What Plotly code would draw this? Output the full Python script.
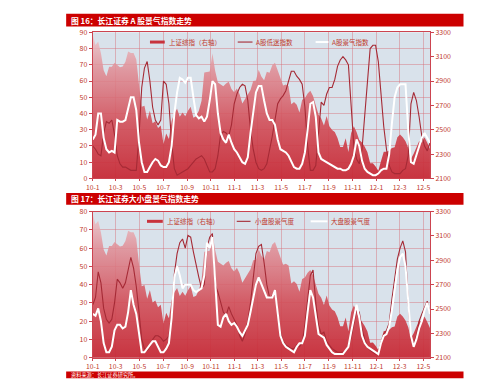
import pandas as pd
import plotly.graph_objects as go

# ---------------- data (weekly) ----------------
dates = pd.date_range("2010-01-01", periods=125, freq="7D")

sh_index = [3277, 3196, 3224, 3128, 2989, 2939, 3018, 3018, 3051, 3031,
            3014, 3019, 3059, 3143, 3131, 3130, 3077, 2870, 2688, 2697,
            2584, 2656, 2553, 2569, 2514, 2535, 2382, 2470, 2424, 2572,
            2637, 2672, 2606, 2642, 2610, 2655, 2688, 2598, 2610, 2656,
            2738, 2971, 2975, 2978, 3129, 2985, 2888, 2871, 2857, 2880,
            2895, 2835, 2808, 2838, 2791, 2715, 2752, 2790, 2827, 2900,
            2905, 2993, 2937, 2906, 2977, 2967, 3030, 3050, 2983, 2911,
            2863, 2871, 2858, 2709, 2728, 2705, 2642, 2746, 2759, 2797,
            2820, 2777, 2701, 2626, 2593, 2534, 2612, 2528, 2497, 2482,
            2432, 2359, 2359, 2431, 2317, 2473, 2528, 2481, 2416, 2396,
            2360, 2316, 2224, 2225, 2199, 2164, 2244, 2319, 2319, 2330,
            2351, 2357, 2439, 2461, 2439, 2405, 2350, 2262, 2302, 2359,
            2406, 2396, 2438, 2394, 2344]

a_low = [20, 18, 15, 14, 28, 35, 34, 36, 27, 14,
         9, 7, 7, 6, 5, 5, 5, 26, 56, 68,
         72, 60, 44, 36, 33, 36, 60, 58, 46, 22,
         6, 2, 3, 4, 5, 6, 8, 10, 12, 13,
         14, 12, 8, 4, 4, 6, 14, 27, 29, 28,
         26, 33, 46, 52, 56, 58, 57, 48, 30, 18,
         10, 6, 5, 6, 9, 17, 26, 36, 46, 49,
         51, 54, 60, 66, 66, 63, 61, 58, 44, 20,
         5, 5, 8, 30, 47, 45, 52, 56, 56, 61,
         69, 73, 75, 73, 70, 45, 20, 12, 9, 18,
         38, 62, 80, 82, 82, 72, 50, 32, 18, 8,
         4, 3, 3, 3, 5, 6, 14, 46, 53, 48,
         38, 26, 20, 17, 22]

a_boom = [24, 27, 40, 40, 25, 18, 16, 17, 16, 36,
          35, 35, 36, 43, 50, 50, 42, 22, 10, 4,
          4, 7, 10, 12, 11, 8, 7, 7, 10, 20,
          40, 53, 62, 61, 59, 62, 62, 50, 39, 37,
          38, 35, 38, 48, 60, 58, 40, 28, 24, 22,
          27, 22, 18, 16, 13, 10, 9, 13, 28, 42,
          53, 57, 57, 48, 40, 36, 36, 33, 24, 18,
          17, 16, 14, 10, 7, 6, 6, 9, 16, 30,
          46, 47, 38, 16, 12, 11, 10, 9, 8, 7,
          6, 6, 5, 5, 6, 9, 14, 24, 20, 11,
          6, 4, 3, 2, 2, 3, 5, 6, 6, 15,
          34, 50, 56, 58, 58, 58, 30, 10, 9, 14,
          20, 25, 28, 25, 22]

small_cap = [29, 33, 47, 41, 27, 21, 19, 21, 30, 43,
             41, 38, 41, 48, 55, 49, 39, 25, 10, 5,
             4, 6, 10, 12, 12, 11, 9, 10, 12, 24,
             46, 57, 63, 65, 60, 67, 66, 58, 50, 44,
             38, 40, 60, 66, 68, 40, 36, 30, 25, 23,
             28, 24, 21, 18, 12, 9, 13, 20, 30, 45,
             57, 61, 62, 52, 40, 33, 34, 37, 25, 14,
             9, 7, 6, 5, 5, 7, 6, 8, 18, 32,
             45, 48, 30, 18, 13, 14, 9, 7, 5, 4,
             3, 3, 3, 4, 6, 11, 19, 26, 25, 16,
             10, 6, 4, 3, 2, 3, 8, 13, 15, 19,
             32, 42, 54, 60, 64, 58, 30, 10, 8, 12,
             20, 24, 28, 31, 24]

large_cap = [24, 23, 27, 20, 8, 3, 3, 6, 15, 18,
             18, 16, 17, 25, 37, 29, 24, 12, 3, 3,
             5, 7, 9, 9, 6, 3, 3, 5, 8, 22,
             44, 50, 45, 38, 40, 40, 40, 37, 36, 37,
             38, 45, 63, 60, 66, 42, 18, 17, 22, 24,
             20, 18, 19, 17, 14, 12, 15, 18, 25, 32,
             40, 44, 40, 36, 33, 33, 33, 37, 24, 12,
             8, 6, 5, 4, 3, 6, 8, 8, 12, 25,
             37, 33, 22, 13, 12, 11, 7, 5, 3, 2,
             2, 2, 2, 4, 6, 14, 22, 29, 22, 12,
             8, 6, 5, 4, 3, 2, 8, 12, 13, 17,
             26, 38, 48, 55, 57, 50, 30, 12, 6, 10,
             16, 20, 26, 30, 24]

title1 = "图 16：长江证券 A 股景气指数走势"
title2 = "图 17：长江证券大小盘景气指数走势"
source = "资料来源：长江证券研究所。"
legend1 = ["上证综指（右轴）", "A股低迷指数", "A股景气指数"]
legend2 = ["上证综指（右轴）", "小盘股景气度", "大盘股景气度"]

# ---------------- styling ----------------
W, H = 499, 390
def fx(p): return p / W
def fy(p): return 1 - p / H

FONT = "Noto Sans CJK SC"
TXT = "#c0392b"
AX = "#cc4450"
GRID = "rgba(214,110,120,0.45)"
BAR = "#cc0000"
DARK = "#a52a35"
FILL = [[0, "rgba(198,36,48,0.93)"], [0.4, "rgba(210,78,88,0.9)"],
        [0.75, "rgba(224,140,148,0.86)"], [1, "rgba(238,200,204,0.8)"]]

fig = go.Figure()

def panel(xa, ya_r, ya_l, low, high):
    fig.add_trace(go.Scatter(x=dates, y=sh_index, xaxis=xa, yaxis=ya_r, mode="lines",
                             line=dict(width=0), fill="tozeroy",
                             fillgradient=dict(type="vertical", start=2100, stop=3300,
                                               colorscale=FILL),
                             showlegend=False, hoverinfo="skip"))
    fig.add_trace(go.Scatter(x=dates, y=low, xaxis=xa, yaxis=ya_l, mode="lines",
                             line=dict(color=DARK, width=1.1), showlegend=False))
    fig.add_trace(go.Scatter(x=dates, y=high, xaxis=xa, yaxis=ya_l, mode="lines",
                             line=dict(color="white", width=2), showlegend=False))

panel("x", "y", "y2", a_low, a_boom)
panel("x2", "y3", "y4", small_cap, large_cap)

tickfont = dict(family=FONT, size=7, color=TXT)

def xax(anchor):
    return dict(domain=[fx(87), fx(429)], anchor=anchor, type="date",
                range=[dates[0], dates[-1]], tick0="2010-01-01", dtick="M2",
                tickformat="%y-%-m", ticks="outside", ticklen=2, tickcolor=AX,
                showline=True, linecolor=AX, linewidth=1, mirror=True,
                showgrid=True, gridcolor=GRID, gridwidth=1, zeroline=False,
                tickfont=dict(family=FONT, size=6.8, color=TXT))

def yr(top, bot, anchor):
    return dict(domain=[fy(bot), fy(top)], anchor=anchor, side="right",
                range=[2100, 3300], tick0=2100, dtick=200, showgrid=False,
                showline=True, linecolor=AX, ticks="outside", ticklen=3,
                tickcolor=AX, zeroline=False, tickfont=tickfont)

def yl(over, anchor, top):
    return dict(overlaying=over, anchor=anchor, side="left", range=[0, top],
                dtick=10, showgrid=True, gridcolor=GRID, gridwidth=1,
                showline=True, linecolor=AX, ticks="outside", ticklen=3,
                tickcolor=AX, zeroline=False, tickfont=tickfont)

shapes = []
annotations = []

def title_bar(y0, y1, text, size):
    shapes.append(dict(type="rect", xref="paper", yref="paper", x0=fx(60), x1=fx(463),
                       y0=fy(y1), y1=fy(y0), fillcolor=BAR, line=dict(width=0), layer="above"))
    annotations.append(dict(text=text, xref="paper", yref="paper", x=fx(63),
                            y=fy((y0 + y1) / 2), xanchor="left", yanchor="middle",
                            showarrow=False, font=dict(family=FONT, size=size, color="white")))

title_bar(8, 21, "<b>" + title1 + "</b>", 7.8)
title_bar(192, 204, "<b>" + title2 + "</b>", 7.8)
title_bar(375, 382, source, 5.2)

def legend(y, items):
    for (x0, x1, tx, color, w), label in items:
        shapes.append(dict(type="line", xref="paper", yref="paper", x0=fx(x0), x1=fx(x1),
                           y0=fy(y), y1=fy(y), line=dict(color=color, width=w), layer="above"))
        annotations.append(dict(text=label, xref="paper", yref="paper", x=fx(tx), y=fy(y),
                                xanchor="left", yanchor="middle", showarrow=False,
                                font=dict(family=FONT, size=6.5, color=TXT)))

legend(37, list(zip([(145, 160, 162, "#c8323c", 3), (234, 249, 251, DARK, 1.1),
                     (313, 326, 328, "white", 2)], legend1)))
legend(221, list(zip([(142, 158, 160, "#c8323c", 3), (233, 247, 249, DARK, 1.1),
                      (308, 325, 327, "white", 2)], legend2)))

fig.update_layout(
    width=W, height=H, margin=dict(l=0, r=0, t=0, b=0),
    paper_bgcolor="white", plot_bgcolor="#d9e2eb",
    font=dict(family=FONT, size=7, color=TXT),
    showlegend=False,
    xaxis=xax("y"), yaxis=yr(27, 177, "x"), yaxis2=yl("y", "x", 90),
    xaxis2=xax("y3"), yaxis3=yr(211, 361, "x2"), yaxis4=yl("y3", "x2", 80),
    shapes=shapes, annotations=annotations,
)

fig.write_html("out.html", config={"displayModeBar": False},
               post_script="document.body.style.margin='0';document.body.style.overflow='hidden';")
